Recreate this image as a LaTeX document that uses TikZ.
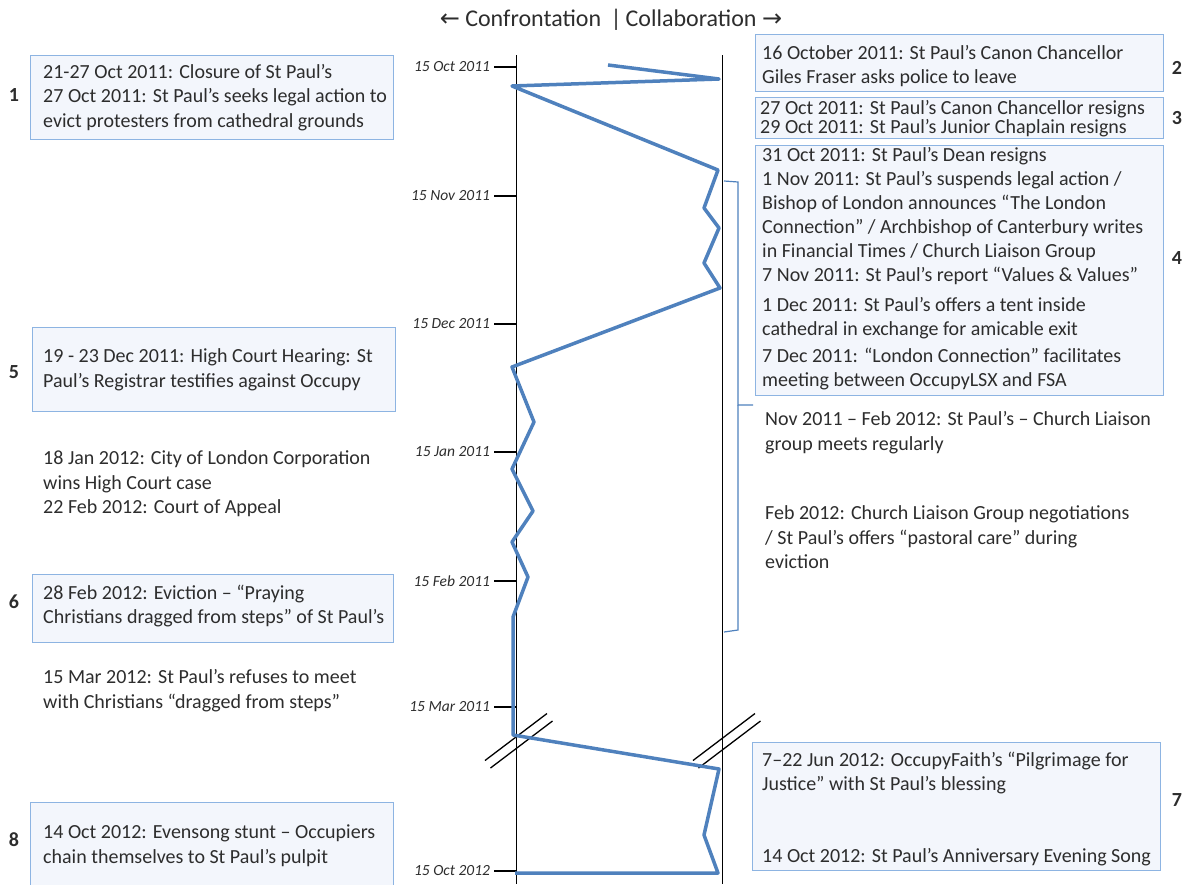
\documentclass[tikz,border=0pt]{standalone}
\usepackage{fontspec}
\setmainfont{Carlito}
\newfontfamily\arrowfont{DejaVu Sans}
\usetikzlibrary{positioning}

\definecolor{pathblue}{RGB}{79,129,189}
\definecolor{boxline}{RGB}{141,180,226}
\definecolor{boxfill}{RGB}{243,246,252}
\definecolor{ink}{RGB}{45,45,45}

\tikzset{
  evbox/.style={draw=boxline, fill=boxfill, line width=1.2, anchor=north west, inner sep=0},
  evtext/.style={anchor=west, align=left, inner sep=0, text=ink, font=\fontsize{20}{24.5}\selectfont},
  evnum/.style={inner sep=0, text=ink, font=\fontsize{20}{24}\selectfont\bfseries},
  datelabel/.style={left, text=ink, font=\fontsize{15.5}{17}\selectfont\itshape},
  axisline/.style={line width=1.5},
  breakline/.style={line width=1.3},
}

\begin{document}
\begin{tikzpicture}[x=1pt, y=-1pt]
    \useasboundingbox (0,0) rectangle (1192,884);

    % Header
    \node[text=ink, font=\fontsize{24}{28}\selectfont] (head) at (611,20)
        {{\arrowfont ←} Confrontation \,|\,Collaboration {\arrowfont →}};

    % Axes
    \draw[axisline] (516.5,55) -- (516.5,884);
    \draw[axisline] (722.5,55) -- (722.5,884);

    % Date ticks
    \foreach \y/\d in {67/15 Oct 2011, 196/15 Nov 2011, 324/15 Dec 2011, 452/15 Jan 2011,
                       581/15 Feb 2011, 707/15 Mar 2011, 871/15 Oct 2012}
        \draw[line width=1.3] (494,\y) -- (516.5,\y) node[pos=0, datelabel] {\d};

    % Axis breaks
    \foreach \cx/\cy in {516/737, 724/737} {
        \draw[breakline] (\cx-31,\cy+23.5) -- (\cx+31,\cy-23.5);
        \draw[breakline] (\cx-25.5,\cy+31) -- (\cx+36.5,\cy-16);
    }

    % Bracket for box 4 and the liaison notes
    \draw[pathblue, line width=1.2] (724,181) -- (738,182) -- (738,405) -- (753,405);
    \draw[pathblue, line width=1.2] (738,405) -- (738,630) -- (724,632);

    %% Left column
    \node[evbox, minimum width=363, minimum height=84] (box1) at (30,55) {};
    \node[evtext] (txt1) at ([xshift=13]box1.west)
        {21-27 Oct 2011: Closure of St Paul’s\\
         27 Oct 2011: St Paul’s seeks legal action to\\
         evict protesters from cathedral grounds};
    \node[evnum] (num1) at (14,95) {1};

    \node[evbox, minimum width=363, minimum height=84] (box5) at (32,327) {};
    \node[evtext] (txt5) at ([xshift=11]box5.west)
        {19 - 23 Dec 2011: High Court Hearing: St\\
         Paul’s Registrar testifies against Occupy};
    \node[evnum] (num5) at (14,372) {5};

    \node[evtext] (court) at (43,484)
        {18 Jan 2012: City of London Corporation\\
         wins High Court case\\
         22 Feb 2012: Court of Appeal};

    \node[evbox, minimum width=361, minimum height=68] (box6) at (32,574) {};
    \node[evtext] (txt6) at ([xshift=11, yshift=2.5]box6.west)
        {28 Feb 2012: Eviction – “Praying\\
         Christians dragged from steps” of St Paul’s};
    \node[evnum] (num6) at (14,602) {6};

    \node[evtext] (refuse) at (43,690.5)
        {15 Mar 2012: St Paul’s refuses to meet\\
         with Christians “dragged from steps”};

    \node[evbox, minimum width=363, minimum height=90] (box8) at (30,802) {};
    \node[evtext] (txt8) at ([xshift=13, yshift=2]box8.west)
        {14 Oct 2012: Evensong stunt – Occupiers\\
         chain themselves to St Paul’s pulpit};
    \node[evnum] (num8) at (14,840) {8};

    %% Right column
    \node[evbox, minimum width=408, minimum height=57] (box2) at (755,34) {};
    \node[evtext] (txt2) at ([xshift=7, yshift=-3]box2.west)
        {16 October 2011: St Paul’s Canon Chancellor\\
         Giles Fraser asks police to leave};
    \node[evnum] (num2) at (1177,68) {2};

    \node[evbox, minimum width=408, minimum height=41] (box3) at (755,97) {};
    \node[evtext, font=\fontsize{20}{19}\selectfont] (txt3) at ([xshift=5, yshift=-1]box3.west)
        {27 Oct 2011: St Paul’s Canon Chancellor resigns\\
         29 Oct 2011: St Paul’s Junior Chaplain resigns};
    \node[evnum] (num3) at (1177,118) {3};

    \node[evbox, minimum width=408, minimum height=250] (box4) at (755,145) {};
    \node[evtext, font=\fontsize{20}{24}\selectfont] (txt4) at ([xshift=7, yshift=2]box4.west)
        {31 Oct 2011: St Paul’s Dean resigns\\
         1 Nov 2011: St Paul’s suspends legal action /\\
         Bishop of London announces “The London\\
         Connection” / Archbishop of Canterbury writes\\
         in Financial Times / Church Liaison Group\\
         7 Nov 2011: St Paul’s report “Values \& Values”\\[6]
         1 Dec 2011: St Paul’s offers a tent inside\\
         cathedral in exchange for amicable exit\\[3]
         7 Dec 2011: “London Connection” facilitates\\
         meeting between OccupyLSX and FSA};
    \node[evnum] (num4) at (1177,258) {4};

    \node[evtext] (liaison) at (765,432.5)
        {Nov 2011 – Feb 2012: St Paul’s – Church Liaison\\
         group meets regularly};
    \node[evtext] (pastoral) at (765,537.5)
        {Feb 2012: Church Liaison Group negotiations\\
         / St Paul’s offers “pastoral care” during\\
         eviction};

    \node[evbox, minimum width=408, minimum height=128] (box7) at (752,742) {};
    \node[evtext, font=\fontsize{20}{24}\selectfont] (txt7) at ([xshift=10, yshift=-2]box7.west)
        {7–22 Jun 2012: OccupyFaith’s “Pilgrimage for\\
         Justice” with St Paul’s blessing\\[48]
         14 Oct 2012: St Paul’s Anniversary Evening Song};
    \node[evnum] (num7) at (1177,800) {7};

    % Confrontation / collaboration path
    \draw[pathblue, line width=3.5, line join=round]
        (608,65) -- (719,79) -- (512,86) -- (718,170) -- (704,208) -- (719,228)
        -- (704,263) -- (720,288) -- (512,367) -- (534,422) -- (512,469)
        -- (533,511) -- (512,542) -- (528,577) -- (513,617) -- (513,735)
        -- (719,769) -- (704,835) -- (718,873) -- (515,873);

\end{tikzpicture}
\end{document}
